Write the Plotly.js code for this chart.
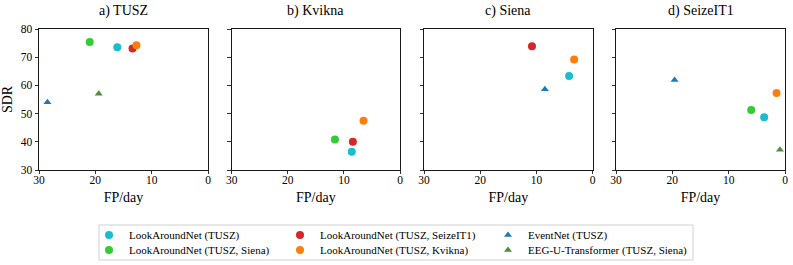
<!DOCTYPE html>
<html>
<head>
<meta charset="utf-8">
<script src="https://cdn.plot.ly/plotly-3.0.1.min.js"></script>
<style>html,body{margin:0;padding:0;background:#fff}</style>
</head>
<body>
<div id="chart" style="width:793px;height:265px"></div>
<script>
// Panels (datasets), in order a, b, c, d
const panelTitles = ['a) TUSZ', 'b) Kvikna', 'c) Siena', 'd) SeizeIT1'];

// Series names
const seriesNames = [
  'LookAroundNet (TUSZ)',
  'LookAroundNet (TUSZ, SeizeIT1)',
  'EventNet (TUSZ)',
  'LookAroundNet (TUSZ, Siena)',
  'LookAroundNet (TUSZ, Kvikna)',
  'EEG-U-Transformer (TUSZ, Siena)'
];

// FP/day and SDR per panel (a, b, c, d); null = not shown
const lanTUSZ_fp       = [16.1, 8.6, 4.2, 3.7];
const lanTUSZ_sdr      = [73.5, 36.5, 63.3, 48.7];
const lanSeizeIT1_fp   = [13.4, 8.4, 10.8, null];
const lanSeizeIT1_sdr  = [73.1, 40.0, 73.9, null];
const eventNet_fp      = [28.5, null, 8.5, 19.6];
const eventNet_sdr     = [54.0, null, 58.6, 61.9];
const lanSiena_fp      = [21.0, 11.6, null, 6.0];
const lanSiena_sdr     = [75.4, 40.8, null, 51.3];
const lanKvikna_fp     = [12.7, 6.5, 3.3, 1.5];
const lanKvikna_sdr    = [74.2, 47.5, 69.2, 57.3];
const eegU_fp          = [19.4, null, null, 0.9];
const eegU_sdr         = [57.0, null, null, 37.2];

const xTicks = [30, 20, 10, 0];
const yTicks = [30, 40, 50, 60, 70, 80];

const seriesFP  = [lanTUSZ_fp, lanSeizeIT1_fp, eventNet_fp, lanSiena_fp, lanKvikna_fp, eegU_fp];
const seriesSDR = [lanTUSZ_sdr, lanSeizeIT1_sdr, eventNet_sdr, lanSiena_sdr, lanKvikna_sdr, eegU_sdr];
const colors  = ['#17becf', '#d62728', '#1f77b4', '#33cc33', '#ff7f0e', '#4f8f3a'];
const symbols = ['circle', 'circle', 'triangle-up', 'circle', 'circle', 'triangle-up'];
const msizes  = [8, 8, 7, 8, 8, 7];

const W = 793, H = 265;
const mL = 39, mR = 8, mT = 29, mB = 95;
const plotW = W - mL - mR, plotH = H - mT - mB;
const px2x = p => (p - mL) / plotW;
const px2y = p => (H - mB - p) / plotH;

const panelPx = [[39, 208], [231.7, 400], [424, 592.7], [616, 785]];

const font = '"Liberation Serif", "DejaVu Serif", serif';
const traces = [];
const legendKeys = ['legend', 'legend2', 'legend3', 'legend4', 'legend5', 'legend6'];
for (let s = 0; s < seriesNames.length; s++) {
  for (let p = 0; p < 4; p++) {
    if (seriesFP[s][p] === null) continue;
    const suffix = p === 0 ? '' : String(p + 1);
    traces.push({
      type: 'scatter', mode: 'markers',
      x: [seriesFP[s][p]], y: [seriesSDR[s][p]],
      xaxis: 'x' + suffix, yaxis: 'y' + suffix,
      name: seriesNames[s],
      legendgroup: 'g' + s,
      legend: legendKeys[s],
      showlegend: p === 0,
      marker: {color: colors[s], symbol: symbols[s], size: msizes[s], line: {width: 0}},
      hoverinfo: 'skip'
    });
  }
}

const layout = {
  width: W, height: H,
  margin: {l: mL, r: mR, t: mT, b: mB, autoexpand: false},
  paper_bgcolor: '#fff', plot_bgcolor: '#fff',
  font: {family: font, color: '#000', size: 11},
  showlegend: true,
  annotations: [],
  shapes: [{
    type: 'rect', xref: 'paper', yref: 'paper',
    x0: px2x(99), x1: px2x(693), y0: px2y(260), y1: px2y(225),
    line: {color: '#d0d0d0', width: 1}, fillcolor: 'rgba(0,0,0,0)', layer: 'below'
  }]
};

for (let p = 0; p < 4; p++) {
  const suffix = p === 0 ? '' : String(p + 1);
  const dom = [px2x(panelPx[p][0]), px2x(panelPx[p][1])];
  layout['xaxis' + suffix] = {
    domain: dom, range: [30, 0], anchor: 'y' + suffix,
    tickvals: xTicks, ticktext: xTicks.map(String),
    ticks: 'outside', ticklen: 3.5, tickwidth: 0.8, tickcolor: '#000',
    ticklabelstandoff: -4,
    showline: true, mirror: true, linecolor: '#000', linewidth: 0.9,
    showgrid: false, zeroline: false,
    tickfont: {family: font, size: 11.5, color: '#000'},
    title: {text: 'FP/day', font: {family: font, size: 14, color: '#000'}, standoff: 6}
  };
  layout['yaxis' + suffix] = {
    domain: [0, 1], range: [30, 80], anchor: 'x' + suffix,
    tickvals: yTicks, ticktext: yTicks.map(String),
    showticklabels: p === 0,
    ticks: 'outside', ticklen: 3.5, tickwidth: 0.8, tickcolor: '#000',
    showline: true, mirror: true, linecolor: '#000', linewidth: 0.9,
    showgrid: false, zeroline: false,
    tickfont: {family: font, size: 11.5, color: '#000'},
    title: p === 0 ? {text: 'SDR', font: {family: font, size: 14, color: '#000'}, standoff: 4} : {text: ''}
  };
  layout.annotations.push({
    text: panelTitles[p], xref: 'paper', yref: 'paper',
    x: (dom[0] + dom[1]) / 2, y: px2y(11), xanchor: 'center', yanchor: 'middle',
    showarrow: false, font: {family: font, size: 14, color: '#000'}
  });
}

// legend entries: 3 columns x 2 rows
const legTextX = [129, 320, 528, 129, 320, 528];
const legRowY  = [235, 235, 235, 250, 250, 250];
for (let s = 0; s < 6; s++) {
  layout[legendKeys[s]] = {
    x: px2x(legTextX[s] - 40), xanchor: 'left', xref: 'paper',
    y: px2y(legRowY[s]), yanchor: 'middle', yref: 'paper',
    orientation: 'v', bgcolor: 'rgba(0,0,0,0)', borderwidth: 0,
    font: {family: font, size: 11, color: '#000'}
  };
}

Plotly.newPlot('chart', traces, layout, {displayModeBar: false, staticPlot: true});
</script>
</body>
</html>
